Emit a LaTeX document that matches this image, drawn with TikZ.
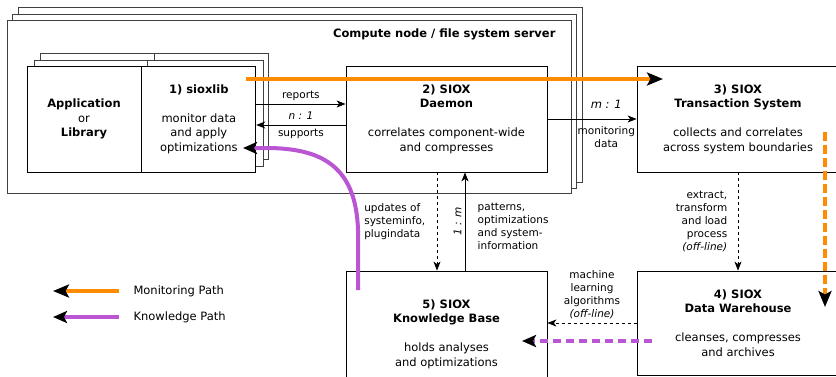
\documentclass[tikz,border=0pt]{standalone}
\usepackage{fontspec}
\setmainfont{DejaVu Sans}
\usetikzlibrary{arrows.meta,positioning}
\definecolor{monorange}{RGB}{255,140,0}
\definecolor{knowpurple}{RGB}{186,85,211}
\tikzset{
    box/.style={draw, line width=0.8pt, fill=white, align=center, inner sep=0pt,
        font=\fontsize{11.5}{14.5}\selectfont},
    lbl/.style={font=\fontsize{10.5}{13}\selectfont},
    frame/.style={draw=black!75, line width=0.8pt, fill=white},
    flow/.style={line width=0.8pt, -{Stealth[length=9pt,width=7pt,inset=2.5pt]}},
    monpath/.style={line width=4pt, draw=monorange, -{Stealth[black,length=16pt,width=13pt,inset=3.5pt]}},
    knowpath/.style={line width=4pt, draw=knowpurple, -{Stealth[black,length=14pt,width=12pt,inset=3pt]}}
}
\begin{document}
\begin{tikzpicture}[x=1pt, y=-1pt]
    \useasboundingbox (0,0) rectangle (836,376);
    % compute node / server, stacked
    \draw [frame] (18,7) rectangle (582,182);
    \draw [frame] (12,14) rectangle (576,188);
    \draw [frame] (7,20) rectangle (571,193);
    \node [anchor=east, font=\fontsize{11.5}{14}\selectfont\bfseries] (srv) at (559,34) {Compute node / file system server};
    % application and sioxlib, stacked
    \draw [frame] (40,53) rectangle (268,159);
    \draw [line width=0.8pt, black!75] (154,53) -- (154,159);
    \draw [frame] (34,60) rectangle (263,166);
    \draw [line width=0.8pt, black!75] (147,60) -- (147,166);
    \node [box, minimum width=114pt, minimum height=106pt] (app) at (84,119)
        {\textbf{Application}\\or\\\textbf{Library}};
    \node [box, minimum width=114pt, minimum height=106pt, right=0pt of app] (lib)
        {\textbf{1) sioxlib}\\[14.5pt]monitor data\\and apply\\optimizations};
    \node [box, minimum width=201pt, minimum height=106pt] (daemon) at (446.5,119)
        {\textbf{2) SIOX}\\\textbf{Daemon}\\[14.5pt]correlates component-wide\\and compresses};
    \node [box, minimum width=202pt, minimum height=106pt] (trans) at (738,119)
        {\textbf{3) SIOX}\\\textbf{Transaction System}\\[14.5pt]collects and correlates\\across system boundaries};
    \node [box, minimum width=201pt, minimum height=126pt] (kb) at (446.5,334)
        {\textbf{5) SIOX}\\\textbf{Knowledge Base}\\[14.5pt]holds analyses\\and optimizations};
    \node [box, minimum width=202pt, minimum height=104pt] (dw) at (738,323)
        {\textbf{4) SIOX}\\\textbf{Data Warehouse}\\[14.5pt]cleanses, compresses\\and archives};
    % connectors
    \draw [flow] ([yshift=15pt]lib.east) -- node [lbl, above] {reports}
        node [lbl, below=4pt] {\textit{n : 1}} ([yshift=15pt]daemon.west);
    \draw [flow] ([yshift=-6pt]daemon.west) -- node [lbl, below] {supports} ([yshift=-6pt]lib.east);
    \draw [flow] (daemon.east) -- node [above=7pt, pos=0.66, font=\fontsize{11.5}{14}\selectfont] {\textit{m : 1}}
        node [lbl, below=4pt, pos=0.66, align=center] {monitoring\\data} (trans.west);
    \draw [flow, dashed] ([xshift=-9.5pt]daemon.south) -- node [lbl, left=8pt, align=left]
        {updates of\\systeminfo,\\plugindata} ([xshift=-9.5pt]kb.north);
    \draw [flow] ([xshift=18.5pt]kb.north) -- node [lbl, rotate=90, anchor=south] {\textit{1 : m}}
        node [lbl, right=9pt, align=left, pos=0.45] {patterns,\\optimizations\\and system-\\information} ([xshift=18.5pt]daemon.south);
    \draw [flow, dashed] (trans.south) -- node [lbl, left=7pt, align=right]
        {extract,\\transform\\and load\\process\\\textit{(off-line)}} (dw.north);
    \draw [flow, dashed] (dw.west) -- node [lbl, above, align=center]
        {machine\\learning\\algorithms\\\textit{(off-line)}} (dw.west -| kb.east);
    % monitoring and knowledge paths
    \coordinate (monA) at (246,79);
    \coordinate (monB) at (663,79);
    \coordinate (monC) at (825,132);
    \coordinate (monD) at (825,307);
    \draw [monpath] (monA) -- (monB);
    \draw [monpath, dash pattern=on 9pt off 4pt] (monC) -- (monD);
    \coordinate (knowA) at (358,290);
    \coordinate (knowB) at (243,148);
    \coordinate (knowC) at (652,341);
    \coordinate (knowD) at (522,341);
    \draw [knowpath] (knowA) -- (358,230) .. controls (356,165) and (320,149) .. (270,148) -- (knowB);
    \draw [knowpath, dash pattern=on 8pt off 5pt] (knowC) -- (knowD);
    % legend
    \node [right, font=\fontsize{11.5}{14}\selectfont] (legmon) at (130,291) {Monitoring Path};
    \node [right, font=\fontsize{11.5}{14}\selectfont] (legknow) at (130,317) {Knowledge Path};
    \draw [monpath] ([xshift=-11pt]legmon.west) -- ([xshift=-77pt]legmon.west);
    \draw [knowpath] ([xshift=-11pt]legknow.west) -- ([xshift=-77pt]legknow.west);
\end{tikzpicture}
\end{document}
